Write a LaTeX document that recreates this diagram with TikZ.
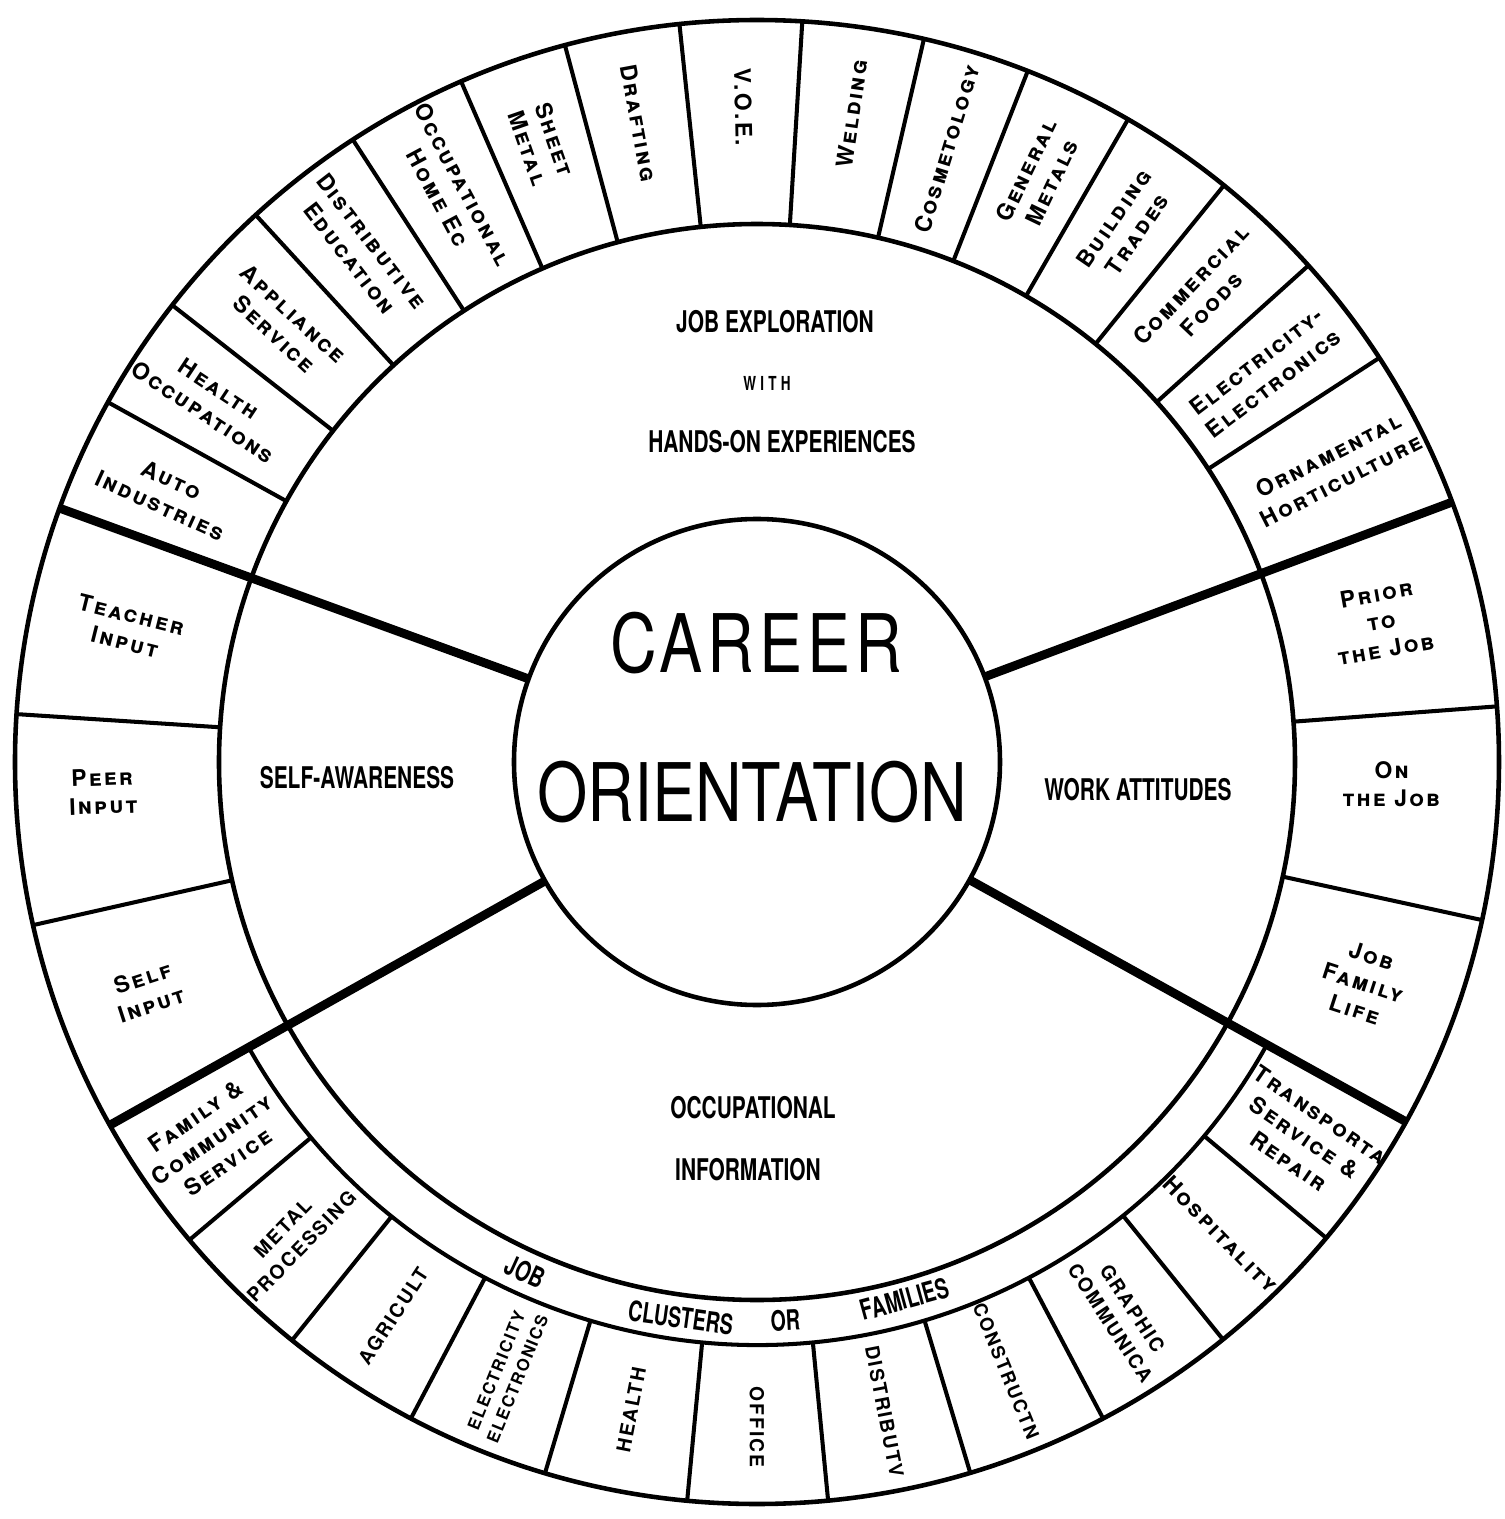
\documentclass[tikz,border=0pt]{standalone}
\usepackage{fontspec}
\setmainfont{TeX Gyre Heros}
\newfontfamily\headfont[FakeStretch=0.7]{TeX Gyre Heros}
\newfontfamily\titlefont[FakeStretch=0.8]{TeX Gyre Heros}
\newfontfamily\segfont[LetterSpace=10]{TeX Gyre Heros}

\tikzset{
  rim/.style={line width=2.6pt},
  divider/.style={line width=2.3pt},
  quarter/.style={line width=5pt},
  seglabel/.style={font=\segfont\bfseries\scshape\fontsize{13}{16}\selectfont, align=center, inner sep=0pt},
  capslabel/.style={font=\segfont\bfseries\fontsize{11}{15}\selectfont, align=center, inner sep=0pt},
  quadlabel/.style={font=\headfont\bfseries\fontsize{17}{20}\selectfont, inner sep=0pt},
  bandlabel/.style={font=\headfont\bfseries\fontsize{16}{18}\selectfont, inner sep=0pt},
}

\begin{document}
\begin{tikzpicture}[x=0.02cm, y=0.02cm]
    \useasboundingbox (-757,-757) rectangle (748,762);

    % rings
    \draw[rim] (0,0) circle (742);
    \draw[rim] (0,0) circle (538);
    \draw[rim] (0,0) circle (243);
    \draw[divider] (209.3:583) arc (209.3:331:583);

    % four quarters
    \draw[quarter] (160:243) -- (160:742);
    \draw[quarter] (20.5:243) -- (20.5:742);
    \draw[quarter] (-29:243) -- (-29:742);
    \draw[quarter] (209.3:243) -- (209.3:742);

    % Job exploration
    \draw[divider] (33:538) -- (33:742) (42:538) -- (42:742) (51:538) -- (51:742)
      (60:538) -- (60:742) (68.6:538) -- (68.6:742) (77:538) -- (77:742)
      (86.5:538) -- (86.5:742) (96:538) -- (96:742) (105:538) -- (105:742)
      (113.5:538) -- (113.5:742) (123:538) -- (123:742) (132.5:538) -- (132.5:742)
      (142:538) -- (142:742) (151:538) -- (151:742);
    \node[quadlabel] (explore) at (18,440) {JOB EXPLORATION};
    \node[quadlabel, font=\headfont\bfseries\fontsize{11}{12}\selectfont\addfontfeature{LetterSpace=22}] (with) at (10,379) {WITH};
    \node[quadlabel] (handson) at (25,320) {HANDS-ON EXPERIENCES};

    \node[seglabel, rotate=27] (ornamental) at (27:648) {Ornamental\\Horticulture};
    \node[seglabel, rotate=37.5] (electric) at (37.5:640) {Electricity-\\Electronics};
    \node[seglabel, rotate=46.5] (foods) at (46.5:645) {Commercial\\Foods};
    \node[seglabel, rotate=55.5] (building) at (55.5:650) {Building\\Trades};
    \node[seglabel, rotate=64.3] (metals) at (64.3:650) {General\\Metals};
    \node[seglabel, rotate=72.8] (cosmetology) at (72.8:642) {Cosmetology};
    \node[seglabel, rotate=81.7] (welding) at (81.7:655) {Welding};
    \node[seglabel, rotate=-88.8] (voe) at (91.2:655) {V.O.E.};
    \node[seglabel, rotate=-79.5] (drafting) at (100.5:650) {Drafting};
    \node[seglabel, rotate=-70.8] (sheet) at (109.2:655) {Sheet\\Metal};
    \node[seglabel, rotate=-61.8] (homeec) at (118.2:648) {Occupational\\Home Ec};
    \node[seglabel, rotate=-52.3] (distrib) at (127.7:648) {Distributive\\Education};
    \node[seglabel, rotate=-42.8] (appliance) at (137.2:645) {Appliance\\Service};
    \node[seglabel, rotate=-33.5] (healthocc) at (146.5:655) {Health\\Occupations};
    \node[seglabel, rotate=-24.5] (auto) at (155.5:650) {Auto\\Industries};

    % Work attitudes
    \draw[divider] (4.3:538) -- (4.3:742) (-12.3:538) -- (-12.3:742);
    \node[quadlabel] (work) at (381,-28) {WORK ATTITUDES};
    \node[seglabel, rotate=10] (prior) at (12.7:640) {Prior\\to\\the Job};
    \node[seglabel] (onjob) at (-2:635) {On\\the Job};
    \node[seglabel, rotate=-18] (family) at (-20:645) {Job\\Family\\Life};

    % Self-awareness
    \draw[divider] (176.3:538) -- (176.3:742) (192.7:538) -- (192.7:742);
    \node[quadlabel] (self) at (-400,-16) {SELF-AWARENESS};
    \node[seglabel, rotate=-14] (teacher) at (168:643) {Teacher\\Input};
    \node[seglabel, rotate=2] (peer) at (182.6:655) {Peer\\Input};
    \node[seglabel, rotate=18] (selfin) at (200.6:652) {Self\\Input};

    % Occupational information
    \draw[divider] (220.1:583) -- (220.1:742) (231.2:583) -- (231.2:742)
      (242.2:583) -- (242.2:742) (253.4:583) -- (253.4:742) (264.6:583) -- (264.6:742)
      (275.5:583) -- (275.5:742) (286.7:583) -- (286.7:742) (297.8:583) -- (297.8:742)
      (308.9:583) -- (308.9:742) (320.1:583) -- (320.1:742);
    \node[quadlabel] (occup) at (-4,-346) {OCCUPATIONAL};
    \node[quadlabel] (inform) at (-9,-408) {INFORMATION};

    \node[bandlabel, rotate=-24.5] (job) at (245.5:560) {JOB};
    \node[bandlabel, rotate=-7.8] (clusters) at (262.2:561) {CLUSTERS};
    \node[bandlabel, rotate=2.9] (or) at (272.9:559) {OR};
    \node[bandlabel, rotate=15.4] (families) at (285.4:557) {FAMILIES};

    \node[seglabel, rotate=34.6] (community) at (214.7:663) {Family \&\\Community\\Service};
    \node[capslabel, rotate=45.7] (metalproc) at (225.65:665) {METAL\\PROCESSING};
    \node[capslabel, rotate=56.8] (agri) at (236.7:663) {AGRICULT};
    \node[capslabel, rotate=67.9, font=\segfont\bfseries\fontsize{9.5}{13}\selectfont] (electron) at (247.8:662) {ELECTRICITY\\ELECTRONICS};
    \node[capslabel, rotate=79] (health) at (259:660) {HEALTH};
    \node[capslabel, rotate=-90] (office) at (270:665) {OFFICE};
    \node[capslabel, rotate=-79] (distributv) at (281.1:662) {DISTRIBUTV};
    \node[capslabel, rotate=-67.8, font=\segfont\bfseries\fontsize{10.5}{14}\selectfont] (constructn) at (292.25:658) {CONSTRUCTN};
    \node[capslabel, rotate=-56.7] (graphic) at (303.35:663) {GRAPHIC\\COMMUNICA};
    \node[seglabel, rotate=-45.6] (hospitality) at (314.5:662) {Hospitality};
    \node[seglabel, rotate=-34.5] (transport) at (325.55:664) {Transporta\\Service \&\\Repair};

    % centre
    \node[font=\titlefont\fontsize{46}{50}\selectfont\addfontfeature{LetterSpace=6}, inner sep=0pt] (career) at (-1,119) {CAREER};
    \node[font=\titlefont\fontsize{46}{50}\selectfont, inner sep=0pt] (orient) at (-5,-30) {ORIENTATION};
\end{tikzpicture}
\end{document}
